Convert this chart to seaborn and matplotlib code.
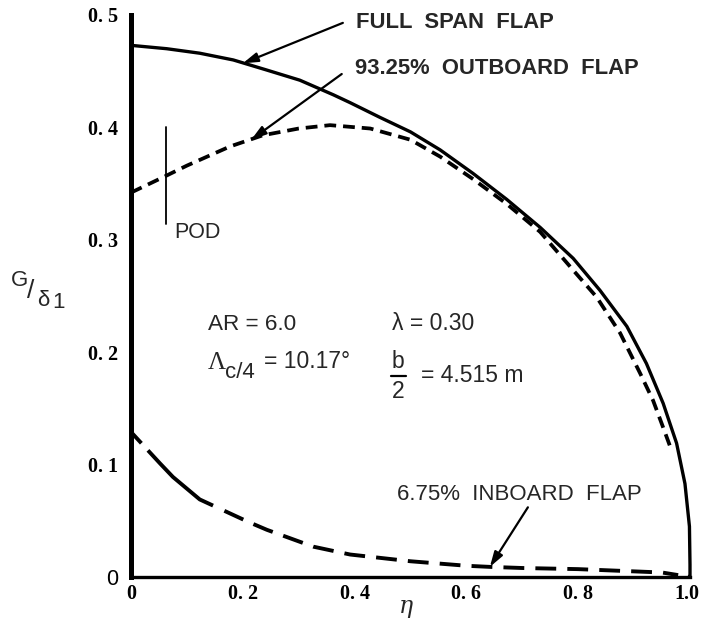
import matplotlib
matplotlib.use("Agg")
import matplotlib.pyplot as plt
from matplotlib.transforms import ScaledTranslation
import seaborn as sns
import pandas as pd

# Spanwise load distributions G/delta_1 versus eta
eta_full = [0.0, 0.064, 0.123, 0.183, 0.243, 0.302, 0.362, 0.392, 0.445, 0.5,
            0.553, 0.612, 0.672, 0.732, 0.791, 0.839, 0.887, 0.922, 0.952,
            0.976, 0.991, 0.999, 1.0, 1.0]
g_full = [0.473, 0.470, 0.466, 0.460, 0.451, 0.442, 0.429, 0.422, 0.409, 0.396,
          0.380, 0.359, 0.336, 0.311, 0.2835, 0.255, 0.223, 0.190, 0.1545,
          0.119, 0.083, 0.045, 0.011, 0.0]

eta_outboard = [0.0, 0.063, 0.1, 0.177, 0.236, 0.3, 0.356, 0.428, 0.5, 0.553,
                0.612, 0.672, 0.732, 0.791, 0.833, 0.875, 0.911, 0.934, 0.952,
                0.966]
g_outboard = [0.342, 0.357, 0.366, 0.383, 0.393, 0.399, 0.402, 0.399, 0.389, 0.374,
              0.354, 0.332, 0.307, 0.273, 0.249, 0.217, 0.181, 0.157, 0.133,
              0.114]

eta_inboard = [0.0, 0.052, 0.075, 0.123, 0.21, 0.243, 0.326, 0.392, 0.5, 0.6,
               0.642, 0.7, 0.8, 0.9, 0.95, 1.0]
g_inboard = [0.129, 0.101, 0.089, 0.069, 0.049, 0.042, 0.027, 0.020, 0.014, 0.010,
             0.009, 0.008, 0.007, 0.005, 0.004, 0.0]

# Pod location marker
pod_eta = 0.063
pod_g = [0.314, 0.400]

x_ticks = [0.0, 0.2, 0.4, 0.6, 0.8, 1.0]
x_tick_labels = ["0", "0. 2", "0. 4", "0. 6", "0. 8", "1.0"]
y_ticks = [0.0, 0.1, 0.2, 0.3, 0.4, 0.5]
y_tick_labels = ["0", "0. 1", "0. 2", "0. 3", "0. 4", "0. 5"]

sns.set_style("white")
plt.rcParams["font.family"] = ["Liberation Sans", "DejaVu Sans"]
plt.rcParams["lines.scale_dashes"] = False
plt.rcParams["lines.solid_joinstyle"] = "round"
plt.rcParams["lines.dash_joinstyle"] = "round"

W, H = 701, 628
fig = plt.figure(figsize=(W / 100, H / 100), dpi=100)
x0, x1, y0, y1 = 131, 690, 577, 15
ax = fig.add_axes([x0 / W, 1 - y0 / H, (x1 - x0) / W, (y0 - y1) / H])


def fp(x, y):
    """pixel position (from top-left) -> figure fraction"""
    return x / W, 1 - y / H


df_full = pd.DataFrame({"eta": eta_full, "G": g_full})
df_out = pd.DataFrame({"eta": eta_outboard, "G": g_outboard})
df_in = pd.DataFrame({"eta": eta_inboard, "G": g_inboard})

sns.lineplot(data=df_full, x="eta", y="G", ax=ax, color="black", lw=2.4,
             sort=False, estimator=None, clip_on=False)
sns.lineplot(data=df_out, x="eta", y="G", ax=ax, color="black", lw=2.7,
             sort=False, estimator=None, clip_on=False,
             linestyle=(0, (8.5, 5.0)))
inboard_dashes = (11, 7, 62, 9) + (15, 8) * 20
sns.lineplot(data=df_in, x="eta", y="G", ax=ax, color="black", lw=2.8,
             sort=False, estimator=None, clip_on=False,
             linestyle=(0, inboard_dashes))

ax.plot([pod_eta, pod_eta], pod_g, color="black", lw=1.3)

ax.set_xlim(0, 1.0)
ax.set_ylim(0, 0.5)
ax.set_xlabel("")
ax.set_ylabel("")
for s in ["top", "right"]:
    ax.spines[s].set_visible(False)
ax.spines["left"].set_linewidth(3.6)
ax.spines["bottom"].set_linewidth(2.4)
ax.spines["left"].set_color("black")
ax.spines["bottom"].set_color("black")

ax.set_xticks(x_ticks)
ax.set_xticklabels(x_tick_labels)
ax.set_yticks(y_ticks)
ax.set_yticklabels(y_tick_labels)
ax.tick_params(axis="x", direction="in", length=10, width=1.6, pad=5,
               colors="black", labelsize=14.5)
ax.tick_params(axis="y", direction="in", length=8, width=1.6, pad=9,
               colors="black", labelsize=14.5)
for lab in ax.get_xticklabels() + ax.get_yticklabels():
    lab.set_fontfamily("Liberation Serif")
    lab.set_fontweight("bold")
ax.get_yticklabels()[0].set_fontfamily("Liberation Sans")
ax.get_yticklabels()[0].set_fontweight("normal")
ax.get_yticklabels()[0].set_fontsize(15.5)
last = ax.get_xticklabels()[-1]
last.set_transform(last.get_transform()
                   + ScaledTranslation(-0.03, 0, fig.dpi_scale_trans))

# Curve labels with arrows
arrow = dict(arrowstyle="-|>,head_length=0.9,head_width=0.28", color="black",
             lw=1.6, shrinkA=0, shrinkB=0)
ax.annotate("", xy=(0.200, 0.457), xytext=(0.379, 0.493), arrowprops=arrow,
            annotation_clip=False)
ax.annotate("", xy=(0.215, 0.389), xytext=(0.377, 0.4475), arrowprops=arrow,
            annotation_clip=False)
ax.annotate("", xy=(0.642, 0.009), xytext=(0.710, 0.062), arrowprops=arrow,
            annotation_clip=False)

fig.text(*fp(356, 22), "FULL  SPAN  FLAP", fontsize=15.8, fontweight="bold",
         ha="left", va="center")
fig.text(*fp(355, 69), "93.25%  OUTBOARD  FLAP", fontsize=15.8,
         fontweight="bold", ha="left", va="center")
fig.text(*fp(397, 495), "6.75%  INBOARD  FLAP", fontsize=16,
         ha="left", va="center")
fig.text(*fp(174, 233), "POD", fontsize=15.5, ha="left", va="center")

# Wing geometry
fig.text(*fp(208, 324), "AR = 6.0", fontsize=16.2, ha="left", va="center")
fig.text(*fp(208, 363), "Λ", fontsize=18, ha="left", va="center",
         family="Liberation Serif")
fig.text(*fp(225, 372), "c/4", fontsize=16, ha="left", va="center")
fig.text(*fp(264, 362), "= 10.17°", fontsize=16.5, ha="left", va="center")
fig.text(*fp(392, 324), "λ = 0.30", fontsize=16.5, ha="left", va="center")
fig.text(*fp(398, 361), "b", fontsize=16.5, ha="center", va="center")
fig.add_artist(plt.Line2D([391 / W, 406 / W], [1 - 376 / H, 1 - 376 / H],
                          color="black", lw=1.6))
fig.text(*fp(398, 391), "2", fontsize=16.5, ha="center", va="center")
fig.text(*fp(421, 376), "= 4.515 m", fontsize=16.5, ha="left", va="center")

# Axis titles: G over delta_1
fig.text(*fp(11, 281), "G", fontsize=16, ha="left", va="center")
fig.text(*fp(31, 291), "/", fontsize=19, ha="center", va="center")
fig.text(*fp(37, 300), "δ", fontsize=16, ha="left", va="center")
fig.text(*fp(52, 302), "1", fontsize=16, ha="left", va="center")
fig.text(*fp(406, 607), "η", fontsize=17, ha="center", va="center",
         family="DejaVu Serif", style="italic")

fig.savefig("out.png", dpi=100, facecolor="white")
